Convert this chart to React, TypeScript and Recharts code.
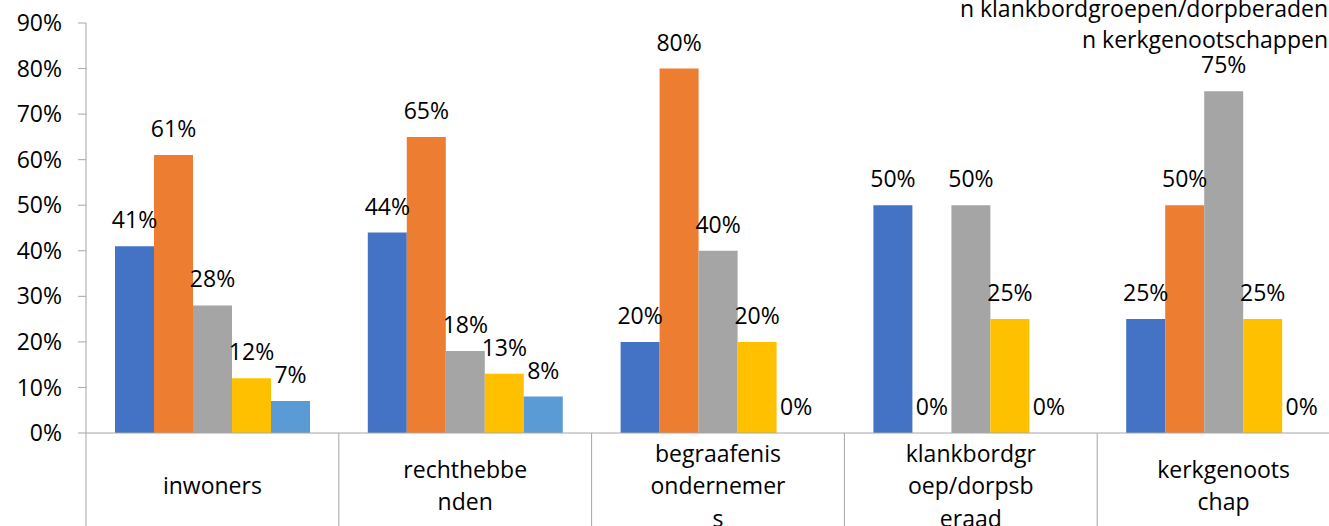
import { BarChart, Bar, XAxis, YAxis, LabelList, Legend } from 'recharts';

// categories and the way the axis labels wrap in the original
const categories = ['inwoners', 'rechthebbenden', 'begraafenis ondernemers', 'klankbordgroep/dorpsberaad', 'kerkgenootschap'];
const categoryLines = [
  ['inwoners'],
  ['rechthebbe', 'nden'],
  ['begraafenis', 'ondernemer', 's'],
  ['klankbordgr', 'oep/dorpsb', 'eraad'],
  ['kerkgenoots', 'chap'],
];

// series values (fractions), one array per colour
const seriesBlue = [0.41, 0.44, 0.2, 0.5, 0.25];
const seriesOrange = [0.61, 0.65, 0.8, 0, 0.5];
const seriesGray = [0.28, 0.18, 0.4, 0.5, 0.75];
const seriesYellow = [0.12, 0.13, 0.2, 0.25, 0.25];
const seriesLightBlue = [0.07, 0.08, 0, 0, 0];

const yTicks = [0, 0.1, 0.2, 0.3, 0.4, 0.5, 0.6, 0.7, 0.8, 0.9];
const legendLines = ['n klankbordgroepen/dorpberaden', 'n kerkgenootschappen'];

const series = [
  { key: 's1', values: seriesBlue, color: '#4472C4' },
  { key: 's2', values: seriesOrange, color: '#ED7D31' },
  { key: 's3', values: seriesGray, color: '#A5A5A5' },
  { key: 's4', values: seriesYellow, color: '#FFC000' },
  { key: 's5', values: seriesLightBlue, color: '#5B9BD5' },
];

const data = categories.map((name, i) => {
  const row: { [key: string]: string | number } = { name };
  series.forEach((s) => {
    row[s.key] = s.values[i];
  });
  return row;
});

const CHART_W = 1360;
const CHART_H = 560;
const FONT = '"Open Sans", Lato, sans-serif';
const FONT_SIZE = 23;
const AXIS_GRAY = '#a6a6a6';

const pct = (v: any) => `${Math.round(Number(v) * 100)}%`;

// zero bars still need their "0%" label, so give them a hairline height
const zeroPoint = (v: any) => (Number(v) === 0 ? 0.001 : 0);

function CategoryTick(props: any) {
  const { x, y, payload, index } = props;
  const half = payload && payload.offset ? payload.offset : 126.4;
  const lines = categoryLines[index] || [String(payload.value)];
  const n = lines.length;
  const left = x - half;
  const right = x + half;
  return (
    <g>
      <line x1={left} y1={y} x2={left} y2={y + 140} stroke={AXIS_GRAY} strokeWidth={1} />
      {index === categories.length - 1 && (
        <line x1={right} y1={y} x2={right} y2={y + 140} stroke={AXIS_GRAY} strokeWidth={1} />
      )}
      {lines.map((line, i) => (
        <text
          key={i}
          x={x}
          y={y + 53 + (i - (n - 1) / 2) * 32.5}
          dy="0.35em"
          textAnchor="middle"
          fontSize={FONT_SIZE}
          fill="#000"
          fontFamily={FONT}
        >
          {line}
        </text>
      ))}
    </g>
  );
}

function LegendText() {
  return (
    <div style={{ textAlign: 'right', fontSize: FONT_SIZE, lineHeight: '31px', color: '#000', fontFamily: FONT, whiteSpace: 'nowrap' }}>
      {legendLines.map((l) => (
        <div key={l}>{l}</div>
      ))}
    </div>
  );
}

export default function App() {
  return (
    <div
      style={{
        position: 'fixed',
        left: 0,
        top: 0,
        width: 1329,
        height: 526,
        overflow: 'hidden',
        background: '#fff',
        fontFamily: FONT,
      }}
    >
      <BarChart
        width={CHART_W}
        height={CHART_H}
        data={data}
        margin={{ top: 23, right: 10, bottom: 0, left: 0 }}
        barCategoryGap={29}
        barGap={0}
      >
        <XAxis
          dataKey="name"
          height={127}
          tickLine={false}
          tickSize={0}
          tickMargin={0}
          axisLine={{ stroke: AXIS_GRAY }}
          tick={<CategoryTick />}
          interval={0}
        />
        <YAxis
          width={86}
          domain={[0, 0.9]}
          ticks={yTicks}
          tickFormatter={pct}
          tickSize={8}
          tickMargin={16}
          tickLine={{ stroke: AXIS_GRAY }}
          axisLine={{ stroke: AXIS_GRAY }}
          tick={{ fontSize: FONT_SIZE, fill: '#000', fontFamily: FONT }}
          interval={0}
        />
        <Legend
          layout="vertical"
          align="center"
          verticalAlign="middle"
          content={<LegendText />}
          wrapperStyle={{ top: -7, right: CHART_W - 1328, left: 'auto', width: 'auto' }}
        />
        {series.map((s) => (
          <Bar key={s.key} dataKey={s.key} fill={s.color} minPointSize={zeroPoint} isAnimationActive={false}>
            <LabelList dataKey={s.key} position="top" offset={18} formatter={pct} fill="#000" fontSize={FONT_SIZE} fontFamily={FONT} />
          </Bar>
        ))}
      </BarChart>
    </div>
  );
}
